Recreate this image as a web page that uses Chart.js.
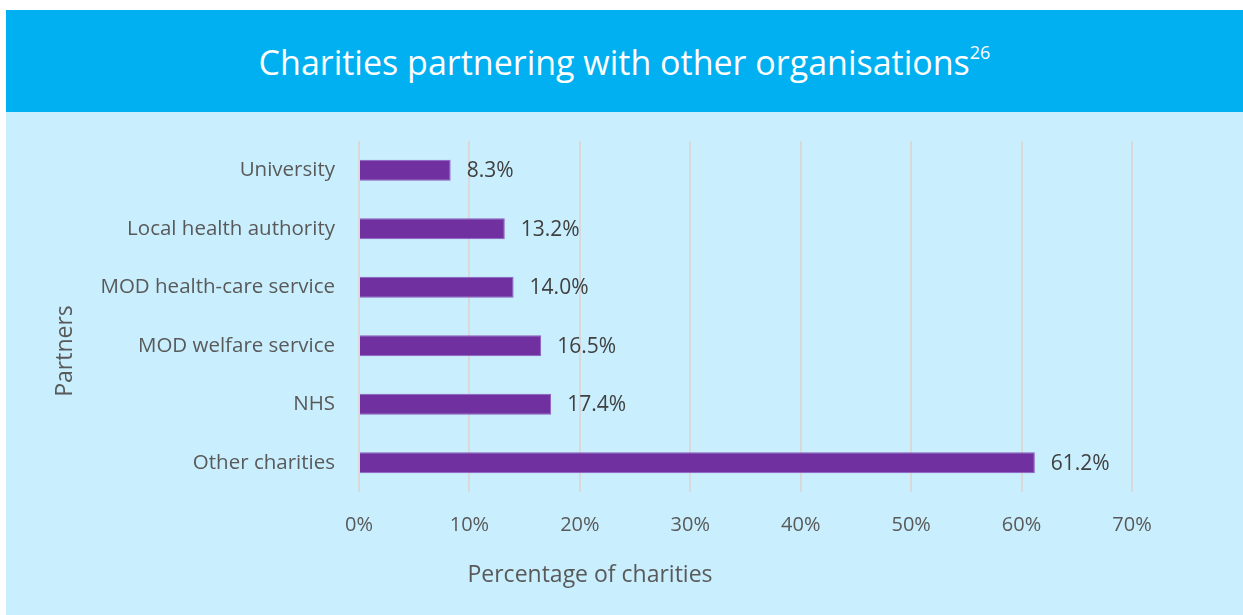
<!DOCTYPE html>
<html>
<head>
  <meta charset="UTF-8" />
  <title>Charities partnering with other organisations</title>
  <script src="https://cdn.jsdelivr.net/npm/chart.js"></script>
  <style>
    body {
      margin: 0;
      background: white;
      font-family: 'Open Sans', sans-serif;
    }
    .panel {
      position: absolute;
      left: 6px; top: 10px;
      width: 1237px; height: 605px;
      background: #c9effe;
    }
    .header {
      height: 102px;
      background: #00b0f0;
      color: white;
      font-size: 34px;
      text-align: center;
      line-height: 104px;
    }
    .header sup { font-size: 18px; vertical-align: 16px; line-height: 0; }
    .chart-box {
      position: relative;
      width: 1237px; height: 503px;
    }
  </style>
</head>
<body>
  <div class="panel">
    <div class="header">Charities partnering with other organisations<sup>26</sup></div>
    <div class="chart-box">
      <canvas id="partnerChart"></canvas>
    </div>
  </div>
  <script>
    const partners = ['University', 'Local health authority', 'MOD health-care service',
                      'MOD welfare service', 'NHS', 'Other charities'];
    const shares = [8.3, 13.2, 14.0, 16.5, 17.4, 61.2];
    const xTicks = [0, 10, 20, 30, 40, 50, 60, 70];

    // value labels at bar ends + the two axis titles
    const labelPlugin = {
      id: 'labels',
      afterDatasetsDraw(chart) {
        const c = chart.ctx;
        c.save();
        c.font = '21px "Open Sans"';
        c.fillStyle = '#404040';
        c.textBaseline = 'middle';
        chart.getDatasetMeta(0).data.forEach((bar, i) => {
          c.fillText(shares[i].toFixed(1) + '%', bar.x + 16, bar.y + 1);
        });
        c.font = '23px "Open Sans"';
        c.fillStyle = '#595959';
        c.textAlign = 'center';
        c.fillText('Percentage of charities', 584, 463);
        c.translate(59, 239);
        c.rotate(-Math.PI / 2);
        c.fillText('Partners', 0, 0);
        c.restore();
      }
    };

    new Chart(document.getElementById('partnerChart'), {
      type: 'bar',
      data: {
        labels: partners,
        datasets: [{
          data: shares,
          backgroundColor: '#7030a0',
          borderColor: '#8f5cc0',
          borderWidth: 1,
          barPercentage: 0.72,
          categoryPercentage: 0.5
        }]
      },
      options: {
        indexAxis: 'y',
        responsive: true,
        maintainAspectRatio: false,
        animation: false,
        layout: { padding: { top: 29, right: 111, left: 0, bottom: 0 } },
        plugins: { legend: { display: false }, tooltip: { enabled: false } },
        scales: {
          x: {
            min: 0, max: 70,
            afterBuildTicks: s => { s.ticks = xTicks.map(v => ({ value: v })); },
            afterFit: s => { s.height = 123; },
            ticks: {
              callback: v => v + '%',
              color: '#595959',
              font: { family: 'Open Sans', size: 20 },
              padding: 21
            },
            grid: { color: '#d9d9d9', lineWidth: 2, drawTicks: false },
            border: { display: false }
          },
          y: {
            afterFit: s => { s.width = 353; },
            ticks: {
              color: '#595959',
              font: { family: 'Open Sans', size: 20.5 },
              padding: 16
            },
            grid: { display: false },
            border: { display: false }
          }
        }
      },
      plugins: [labelPlugin]
    });
  </script>
</body>
</html>
